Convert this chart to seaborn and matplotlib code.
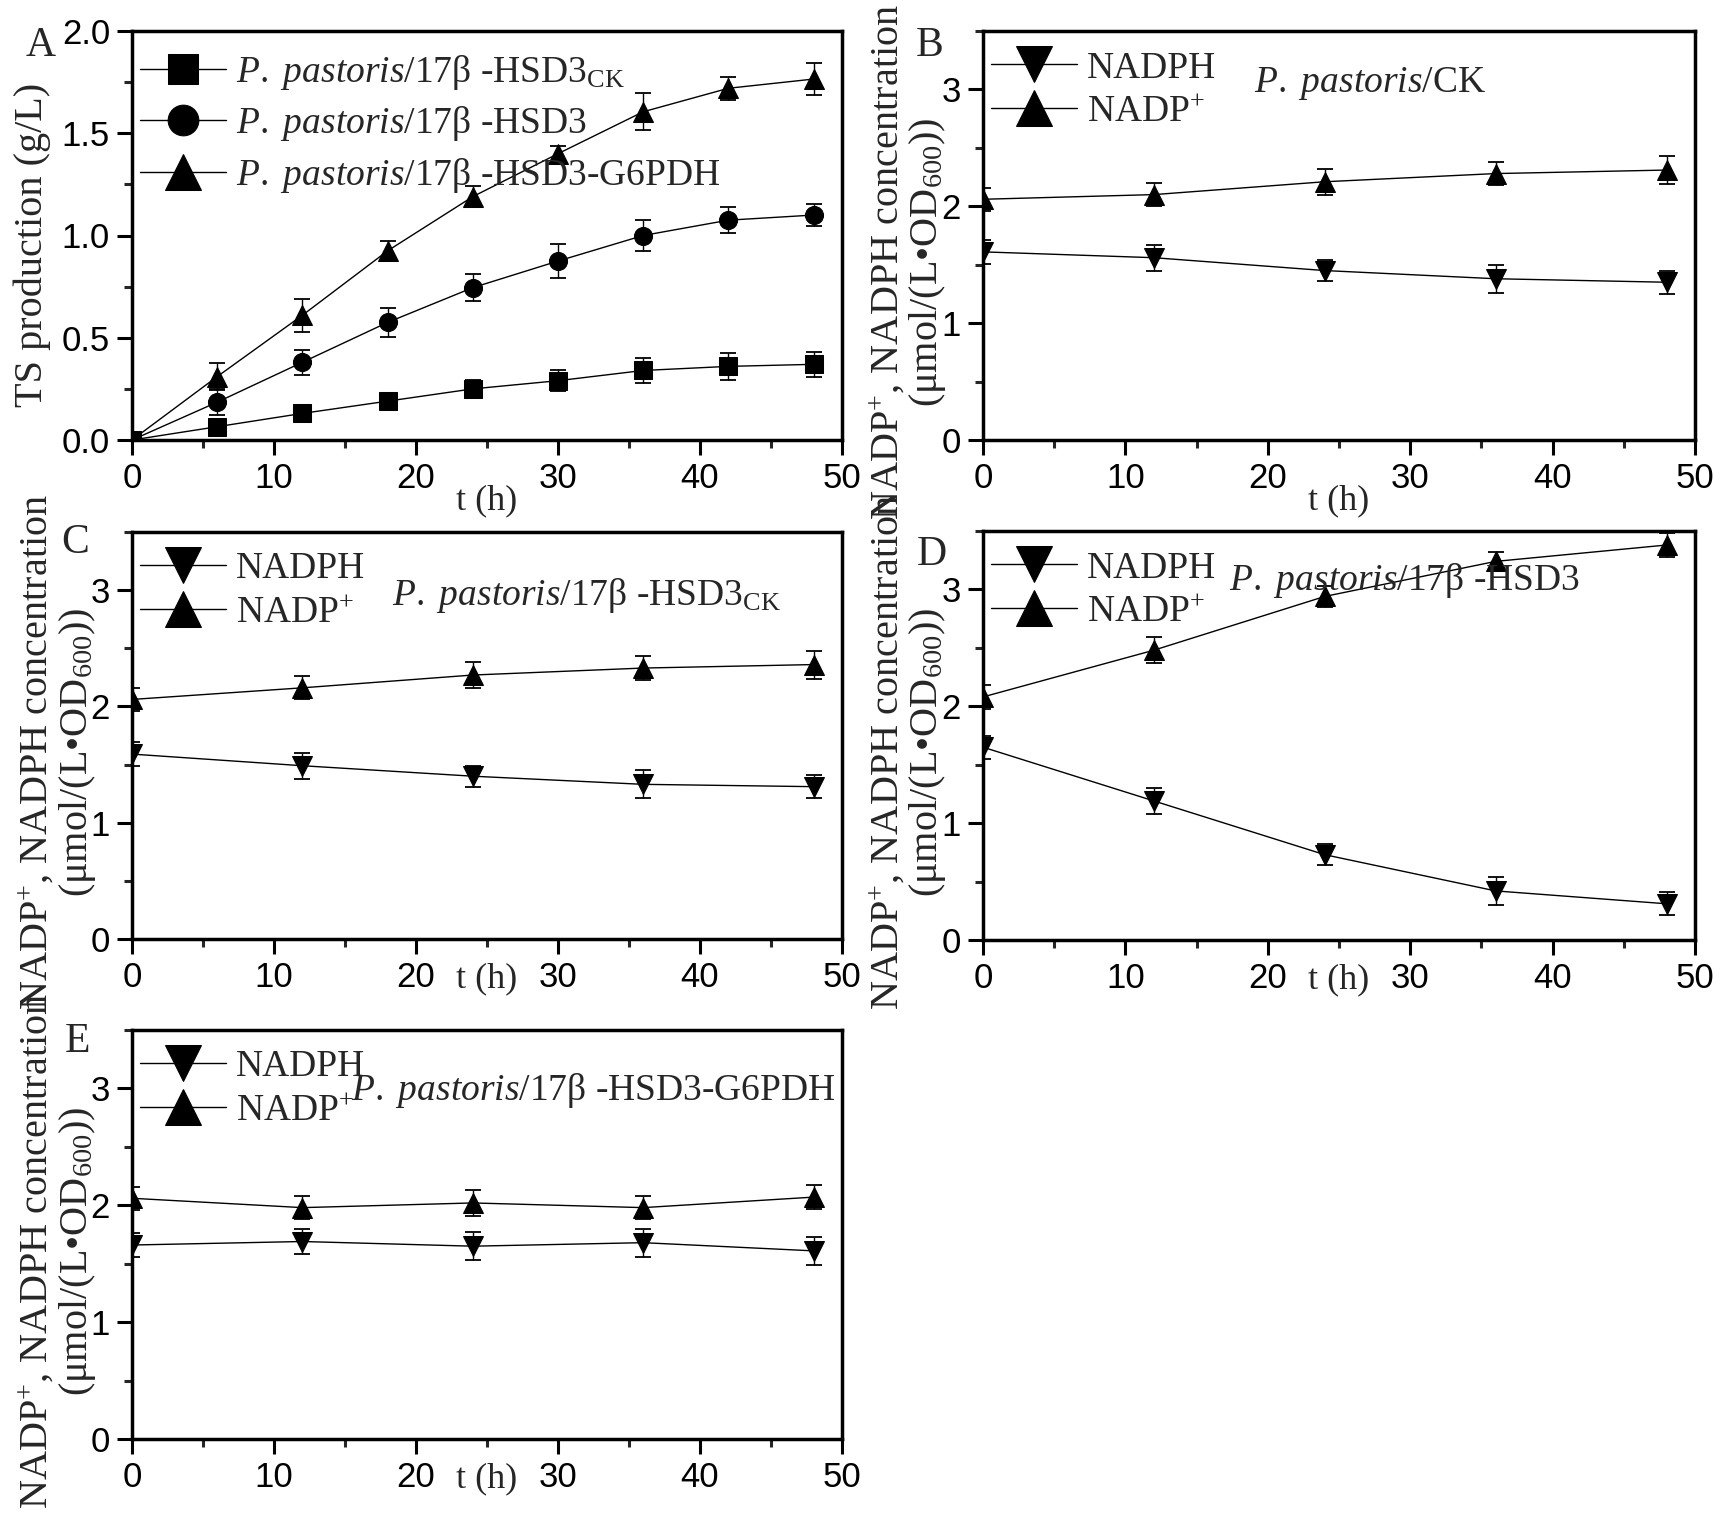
import numpy as np
import pandas as pd
import matplotlib
matplotlib.use("Agg")
import matplotlib.pyplot as plt
from matplotlib.ticker import MultipleLocator, FormatStrFormatter
import seaborn as sns

# ---------------- data ----------------
t_ts = [0, 6, 12, 18, 24, 30, 36, 42, 48]
ts_ck = [0.0, 0.065, 0.13, 0.19, 0.25, 0.29, 0.34, 0.36, 0.37]
ts_ck_err = [0.0, 0.03, 0.02, 0.02, 0.045, 0.05, 0.06, 0.065, 0.06]
ts_hsd3 = [0.0, 0.185, 0.38, 0.575, 0.745, 0.875, 1.0, 1.075, 1.10]
ts_hsd3_err = [0.0, 0.065, 0.06, 0.072, 0.065, 0.085, 0.075, 0.065, 0.055]
ts_g6pdh = [0.0, 0.31, 0.61, 0.925, 1.19, 1.40, 1.605, 1.72, 1.765]
ts_g6pdh_err = [0.0, 0.065, 0.08, 0.05, 0.05, 0.04, 0.09, 0.055, 0.08]

t_nad = [0, 12, 24, 36, 48]
# B: P. pastoris/CK
nadph_ck = [1.61, 1.56, 1.45, 1.38, 1.35]
nadph_ck_err = [0.10, 0.11, 0.09, 0.12, 0.10]
nadp_ck = [2.06, 2.10, 2.21, 2.28, 2.31]
nadp_ck_err = [0.10, 0.10, 0.11, 0.10, 0.12]
# C: P. pastoris/17b-HSD3_CK
nadph_hck = [1.59, 1.49, 1.40, 1.33, 1.31]
nadph_hck_err = [0.10, 0.11, 0.09, 0.12, 0.10]
nadp_hck = [2.06, 2.16, 2.27, 2.33, 2.36]
nadp_hck_err = [0.10, 0.10, 0.11, 0.10, 0.12]
# D: P. pastoris/17b-HSD3
nadph_h = [1.65, 1.19, 0.73, 0.42, 0.31]
nadph_h_err = [0.10, 0.11, 0.09, 0.12, 0.10]
nadp_h = [2.08, 2.48, 2.94, 3.24, 3.38]
nadp_h_err = [0.10, 0.11, 0.09, 0.08, 0.10]
# E: P. pastoris/17b-HSD3-G6PDH
nadph_g = [1.66, 1.69, 1.65, 1.68, 1.61]
nadph_g_err = [0.10, 0.11, 0.12, 0.12, 0.12]
nadp_g = [2.06, 1.98, 2.02, 1.98, 2.07]
nadp_g_err = [0.10, 0.10, 0.11, 0.10, 0.10]

legend_A = [r'$\it{P.\ pastoris}$/17β -HSD3$_{\rm CK}$',
            r'$\it{P.\ pastoris}$/17β -HSD3',
            r'$\it{P.\ pastoris}$/17β -HSD3-G6PDH']
legend_N = ['NADPH', r'NADP$^{+}$']
strain_B = r'$\it{P.\ pastoris}$/CK'
strain_C = r'$\it{P.\ pastoris}$/17β -HSD3$_{\rm CK}$'
strain_D = r'$\it{P.\ pastoris}$/17β -HSD3'
strain_E = r'$\it{P.\ pastoris}$/17β -HSD3-G6PDH'
ylab_A = 'TS production (g/L)'
ylab_N = 'NADP$^{+}$, NADPH concentration\n(μmol/(L•OD$_{600}$))'
xlab = 't (h)'

# ---------------- style ----------------
sns.set_style("ticks")
plt.rcParams['font.family'] = ['Liberation Serif', 'DejaVu Serif']
plt.rcParams['mathtext.fontset'] = 'custom'
plt.rcParams['mathtext.rm'] = 'Liberation Serif'
plt.rcParams['mathtext.it'] = 'Liberation Serif:italic'
plt.rcParams['mathtext.bf'] = 'Liberation Serif:bold'
plt.rcParams['axes.edgecolor'] = 'black'

W, H = 1713, 1513
fig = plt.figure(figsize=(W / 100, H / 100), dpi=100)


def rect(left, top, right, bottom):
    return [left / W, 1 - bottom / H, (right - left) / W, (bottom - top) / H]


axA = fig.add_axes(rect(132, 31, 842, 440))
axB = fig.add_axes(rect(983, 31, 1695, 440))
axC = fig.add_axes(rect(132, 532, 842, 939))
axD = fig.add_axes(rect(983, 531, 1695, 940))
axE = fig.add_axes(rect(132, 1030, 842, 1439))

MS = 13


def series(ax, t, y, err, marker, label, ms=MS):
    ax.errorbar(t, y, yerr=err, fmt='none', ecolor='black', elinewidth=1.0,
                capsize=5.5, capthick=1.3, zorder=2)
    df = pd.DataFrame({'t': t, 'y': y})
    sns.lineplot(data=df, x='t', y='y', ax=ax, color='black', linewidth=1.0,
                 marker=marker, markersize=ms, markeredgecolor='black',
                 markerfacecolor='black', estimator=None, label=label, zorder=3)


def style_axes(ax, ymax, ymajor, yfmt, xlabel_y, legend_top_px, labelspacing):
    ax.set_xlim(0, 50)
    ax.set_ylim(0, ymax)
    ax.xaxis.set_major_locator(MultipleLocator(10))
    ax.xaxis.set_minor_locator(MultipleLocator(5))
    ax.yaxis.set_major_locator(MultipleLocator(ymajor))
    ax.yaxis.set_minor_locator(MultipleLocator(ymajor / 2))
    ax.yaxis.set_major_formatter(FormatStrFormatter(yfmt))
    for s in ax.spines.values():
        s.set_visible(True)
        s.set_linewidth(2.5)
        s.set_color('black')
    ax.tick_params(which='major', direction='out', length=10.8, width=2.2,
                   labelsize=25, pad=5, labelfontfamily='Liberation Sans',
                   top=False, right=False, colors='black')
    ax.tick_params(which='minor', direction='out', length=5.8, width=2.2,
                   top=False, right=False)
    ax.set_xlabel(xlab, fontsize=26, va='center')
    ax.xaxis.set_label_coords(0.5, xlabel_y)
    h = ax.get_window_extent().height
    ax.legend(loc='upper left', bbox_to_anchor=(8 / 710, 1 - legend_top_px / h),
              frameon=False, prop={'family': 'Liberation Serif', 'size': 27},
              handlelength=2.3, handletextpad=0.25, labelspacing=labelspacing,
              borderpad=0, borderaxespad=0, markerscale=1.7)


# Panel A
series(axA, t_ts, ts_ck, ts_ck_err, 's', legend_A[0], ms=12.5)
series(axA, t_ts, ts_hsd3, ts_hsd3_err, 'o', legend_A[1], ms=13)
series(axA, t_ts, ts_g6pdh, ts_g6pdh_err, '^', legend_A[2], ms=15)
style_axes(axA, 2.0, 0.5, '%.1f', -0.149, 22, 0.33)
axA.set_ylabel(ylab_A, fontsize=29, va='center', ha='center')
axA.yaxis.set_label_coords(-0.141, 0.478)

# Panels B-E
panels = [
    (axB, nadph_ck, nadph_ck_err, nadp_ck, nadp_ck_err, strain_B, (0.381, 0.851), -0.149, 0.435),
    (axC, nadph_hck, nadph_hck_err, nadp_hck, nadp_hck_err, strain_C, (0.366, 0.821), -0.098, 0.46),
    (axD, nadph_h, nadph_h_err, nadp_h, nadp_h_err, strain_D, (0.346, 0.856), -0.098, 0.46),
    (axE, nadph_g, nadph_g_err, nadp_g, nadp_g_err, strain_E, (0.308, 0.829), -0.098, 0.46),
]
for ax, ph, phe, pp, ppe, strain, tpos, xly, yly in panels:
    series(ax, t_nad, ph, phe, 'v', legend_N[0], ms=15)
    series(ax, t_nad, pp, ppe, '^', legend_N[1], ms=15)
    style_axes(ax, 3.5, 1, '%d', xly, 20, 0.25)
    ax.set_ylabel(ylab_N, fontsize=29, va='center', ha='center', linespacing=1.0)
    ax.yaxis.set_label_coords(-0.105, yly)
    ax.text(tpos[0], tpos[1], strain, transform=ax.transAxes, fontsize=27,
            ha='left', va='baseline')

# Panel letters
for letter, (px, py) in zip('ABCDE', [(41, 46), (930, 46), (75, 543), (932, 555), (78, 1042)]):
    fig.text(px / W, 1 - py / H, letter, fontsize=30, ha='center', va='center')

fig.savefig('out.png', dpi=100)
